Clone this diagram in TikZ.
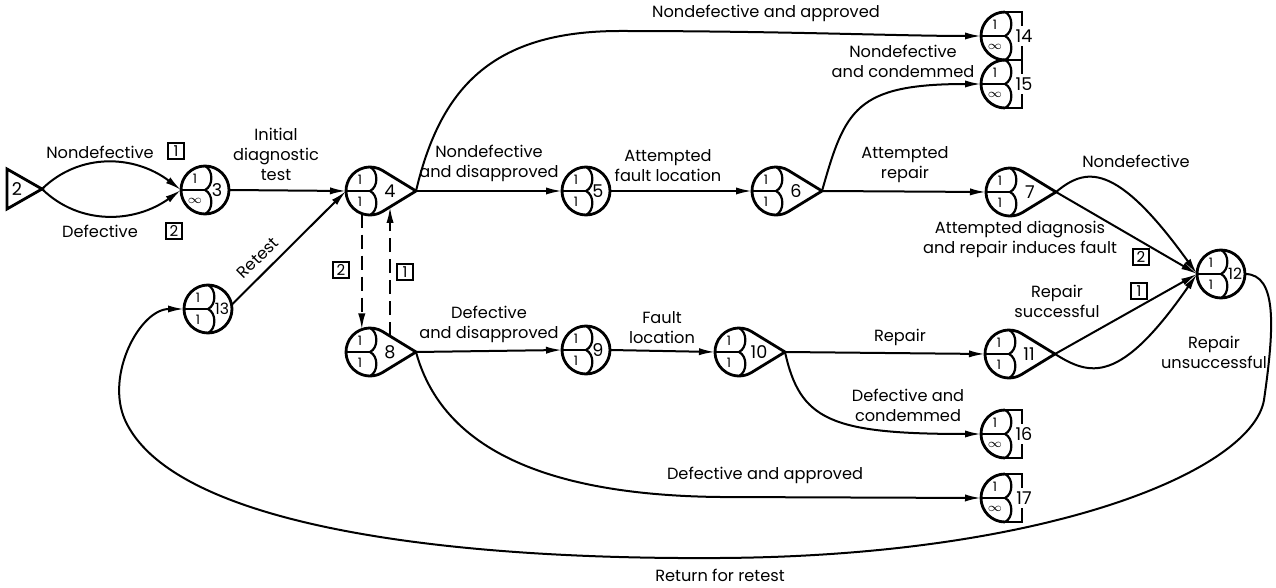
\documentclass[tikz,border=0pt]{standalone}
\usepackage{fontspec}
\setmainfont{Poppins}
\usetikzlibrary{arrows.meta,calc}

\begin{document}
\begin{tikzpicture}[x=0.5pt,y=0.5pt,
        every node/.style={font=\fontsize{8.1}{10}\selectfont,inner sep=0pt},
        gert/.style={circle,minimum size=24pt,inner sep=0pt,outer sep=0pt},
        outline/.style={line width=1.4pt},
        edge/.style={line width=1pt,-{Latex[length=8pt,width=3.6pt]}},
        dashedge/.style={edge,dash pattern=on 7pt off 3.5pt},
        txt/.style={align=center,anchor=south},
        num/.style={font=\fontsize{8.8}{10}\selectfont},
        num2/.style={font=\fontsize{7.8}{10}\selectfont},
        digit/.style={font=\fontsize{6.5}{7}\selectfont},
        box/.style={draw,line width=0.8pt,minimum size=8pt,inner sep=0.8pt,font=\fontsize{7.5}{8}\selectfont},
        pics/lobes/.style={code={
            \draw[line width=1.1pt] (-12pt,0) -- (0,0);
            \draw[line width=1.1pt] (0,12pt) to[bend left=65] (0,0) to[bend left=65] (0,-12pt);
            \node[digit] at (-5pt,5.5pt) {1};
            \node[digit] at (-5pt,-5.5pt) {#1};
        }}]
    \useasboundingbox (0,0) rectangle (1276,-588);

    \node[num] (n2) at (17,-189) {2};
    \coordinate (n2-tip) at (42,-189);
    \draw[outline] (n2-tip) -- (7,-169) -- (7,-209) -- cycle;

    \foreach \n/\x/\y/\lo/\dx/\sz in {3/205/190/{$\infty$}/12/num,5/586/191/1/12/num,9/586/350/1/12/num,12/1221/274/1/14/num2,13/208/309/1/14/num2}{
        \node[gert] (n\n) at (\x,-\y) {};
        \draw[outline] (n\n) circle[radius=12pt];
        \pic at (n\n) {lobes=\lo};
        \node[\sz] (n\n-lbl) at ($(n\n)+(\dx,0)$) {\n};
    }

    \foreach \n/\x/\y in {4/370/191,6/776/191,7/1010/192,8/370/352,10/739/352,11/1009/354}{
        \node[gert] (n\n) at (\x,-\y) {};
        \coordinate (n\n-tip) at (\x+46,-\y);
        \coordinate (n\n-ut) at ($(n\n)+(58:12pt)$);
        \coordinate (n\n-lt) at ($(n\n)+(-58:12pt)$);
        \draw[outline] (n\n-ut) arc[start angle=58,end angle=302,radius=12pt] -- (n\n-tip) -- cycle;
        \pic at (n\n) {lobes=1};
        \node[num] (n\n-lbl) at ($(n\n)+(20,0)$) {\n};
    }

    \foreach \n/\y in {14/36,15/84,16/434,17/498}{
        \node[gert] (n\n) at (1005,-\y) {};
        \draw[outline] (n\n.north) arc[start angle=90,end angle=270,radius=12pt];
        \draw[outline] (n\n.north) -- ++(17,0) -- ++(0,-14);
        \draw[outline] (n\n.south) -- ++(17,0) -- ++(0,14);
        \pic at (n\n) {lobes={$\infty$}};
        \node[num] (n\n-lbl) at ($(n\n)+(19,0)$) {\n};
    }

    \draw[edge] (n2-tip) .. controls (80,-152) and (135,-155) .. (n3.west);
    \draw[edge] (n2-tip) .. controls (80,-226) and (135,-223) .. (n3.west);
    \node (l-nd) at (100,-152) {Nondefective};
    \node[box] (b-nd) at (176,-151) {1};
    \node (l-d) at (100,-231) {Defective};
    \node[box] (b-d) at (174,-231) {2};

    \draw[edge] (n3.east) -- (n4.west);
    \node[txt] (l-init) at (276,-181) {Initial\\diagnostic\\test};
    \draw[edge] (n13.10) -- node[pos=0.32,above=4pt,sloped] (l-retest) {Retest} (n4.west);

    \draw[edge] (n4-tip) -- (n5.west);
    \node[txt] (l-ndd) at (489,-182) {Nondefective\\and disapproved};
    \draw[edge] (n4-tip) .. controls (440,-90) and (490,-31) .. (620,-31)
        .. controls (780,-31) and (900,-36) .. (n14.west);
    \node[txt] (l-nda) at (766,-22) {Nondefective and approved};

    \coordinate (d2-top) at (n4.-110);
    \coordinate (d2-bot) at (n8.110);
    \coordinate (d1-bot) at ($(n8-ut)!0.22!(n8-tip)$);
    \coordinate (d1-top) at ($(n4-lt)!0.22!(n4-tip)$);
    \draw[dashedge] (d2-top) -- (d2-bot);
    \draw[dashedge] (d1-bot) -- (d1-top);
    \node[box] (b-d2) at (341,-270) {2};
    \node[box] (b-d1) at (405,-272) {1};

    \draw[edge] (n5.east) -- (n6.west);
    \node[txt] (l-afl) at (668,-182) {Attempted\\fault location};
    \draw[edge] (n6-tip) -- (n7.west);
    \node[txt] (l-ar) at (905,-183) {Attempted\\repair};
    \draw[edge] (n6-tip) .. controls (845,-110) and (855,-84) .. (n15.west);
    \node[txt] (l-ndc) at (903,-78) {Nondefective\\and condemmed};

    \draw[edge] (n7-tip) .. controls (1085,-168) and (1115,-160) .. (n12.west);
    \node[txt] (l-nd2) at (1136,-168) {Nondefective};
    \draw[edge] (n7-tip) -- (n12.west);
    \node[txt] (l-adr) at (1020,-258) {Attempted diagnosis\\and repair induces fault};
    \node[box] (b-adr) at (1141,-257) {2};

    \draw[edge] (n8-tip) -- (n9.west);
    \node[txt] (l-dd) at (489,-343) {Defective\\and disapproved};
    \draw[edge] (n8-tip) .. controls (440,-440) and (530,-495) .. (720,-497) -- (n17.west);
    \node[txt] (l-da) at (765,-484) {Defective and approved};

    \draw[edge] (n9.east) -- (n10.west);
    \node[txt] (l-fl) at (662,-344) {Fault\\location};
    \draw[edge] (n10-tip) -- (n11.west);
    \node[txt] (l-r) at (900,-346) {Repair};
    \draw[edge] (n10-tip) .. controls (800,-420) and (830,-434) .. (n16.west);
    \node[txt] (l-dc) at (908,-422) {Defective and\\condemmed};

    \draw[edge] (n11-tip) -- (n12.west);
    \node[txt] (l-rs) at (1057,-318) {Repair\\successful};
    \node[box] (b-rs) at (1139,-291) {1};
    \draw[edge] (n11-tip) .. controls (1090,-376) and (1120,-385) .. (n12.west);
    \node (l-ru) at (1214,-352) [align=center] {Repair\\unsuccessful};

    \draw[edge] (n12.east) .. controls (1278,-274) and (1274,-330) .. (1264,-400)
        .. controls (1252,-470) and (1050,-556) .. (720,-558)
        .. controls (420,-560) and (170,-520) .. (125,-420)
        .. controls (105,-375) and (140,-309) .. (n13.west);
    \node (l-ret) at (720,-575) {Return for retest};
\end{tikzpicture}
\end{document}
